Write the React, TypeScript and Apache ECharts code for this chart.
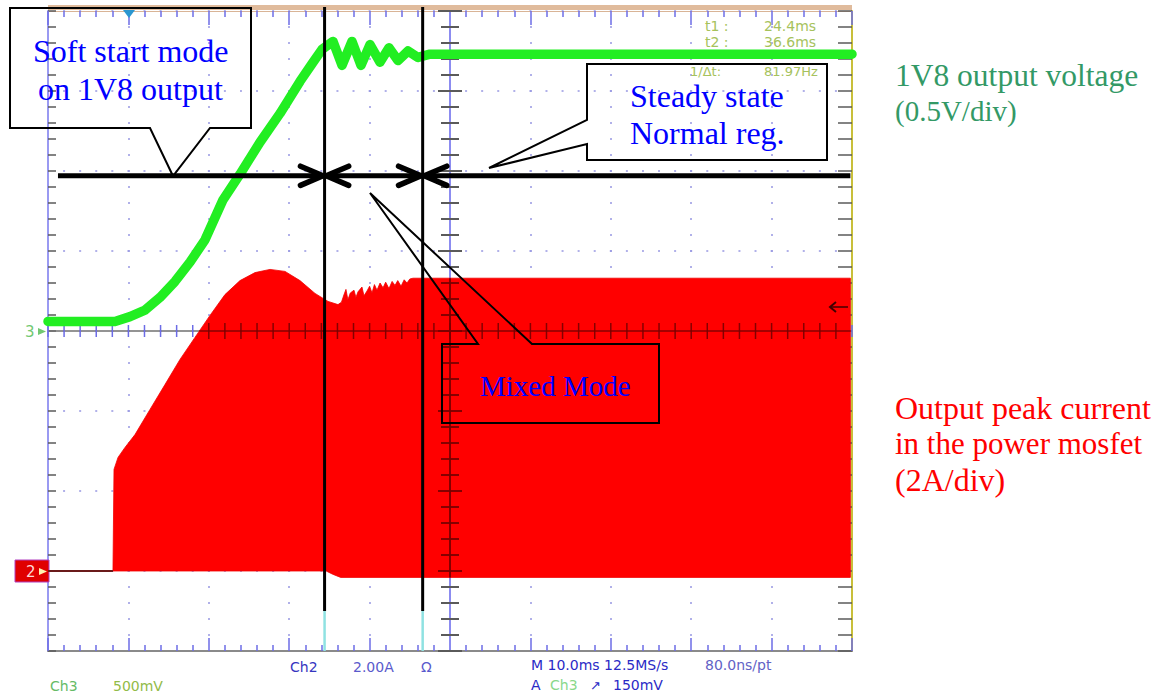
import React, { useEffect, useRef } from "react";
import * as echarts from "echarts";

// ---- axes (oscilloscope screen) ----
const TIME_MIN = -10; // ms
const TIME_MAX = 90; // ms
const TIME_STEP = 10; // ms/div
const DIV_MIN = -4;
const DIV_MAX = 4;
const VOLT_PER_DIV = 0.5; // Ch3
const VOLT_ZERO_DIV = 0;
const AMP_PER_DIV = 2; // Ch2
const AMP_ZERO_DIV = -3;

// ---- Ch3 : 1V8 output voltage (ms, V) ----
const greenT = [-10, -1.67, 0.2, 2.06, 3.93, 5.8, 7.66, 9.53, 11.77, 13.88, 16.37, 18.86, 21.34, 22.84, 24.08, 25.45, 26.57, 27.81, 28.93, 30.05, 31.29, 32.41, 33.53, 34.78, 36.02, 37.51, 90];
const greenV = [0.06, 0.06, 0.09, 0.13, 0.21, 0.31, 0.43, 0.57, 0.82, 0.98, 1.18, 1.36, 1.56, 1.67, 1.76, 1.81, 1.66, 1.81, 1.66, 1.79, 1.68, 1.77, 1.69, 1.75, 1.71, 1.73, 1.73];

// ---- Ch2 : peak current envelope (ms, A) ----
const redTopT = [-1.92, -1.79, -1.29, -0.42, 0.82, 2.69, 4.55, 6.42, 8.28, 10.15, 12.01, 13.88, 15.75, 17.61, 19.48, 21.34, 23.21, 24.83, 26.07, 26.5, 26.8, 27.06, 27.3, 27.6, 28.06, 28.3, 28.56, 29.05, 29.3, 29.68, 30.0, 30.3, 30.6, 30.92, 31.3, 31.67, 32.0, 32.41, 32.8, 33.16, 33.5, 33.91, 34.3, 34.65, 35.0, 35.4, 89.8];
const redTopA = [0, 2.54, 2.84, 3.09, 3.41, 4.04, 4.66, 5.29, 5.84, 6.39, 6.91, 7.26, 7.46, 7.54, 7.49, 7.26, 6.94, 6.74, 6.66, 6.72, 6.9, 7.04, 6.78, 6.95, 7.02, 6.84, 6.98, 7.1, 6.88, 7.0, 7.12, 6.95, 7.16, 7.02, 7.2, 7.08, 7.22, 7.06, 7.24, 7.14, 7.26, 7.12, 7.28, 7.2, 7.3, 7.32, 7.32];
const redBotT = [-1.92, 24.6, 25.4, 26.4, 89.8];
const redBotA = [0, 0, -0.08, -0.16, -0.16];
const baseT = [-10, -1.92];
const baseA = [0, 0];

// ---- cursors & annotation arrow ----
const cursorTimes = [24.4, 36.6];
const cursorTopDiv = 4.05;
const cursorBlackEndDiv = -3.5;
const arrowLevelDiv = 1.94;
const arrowFrom = -8.76;
const arrowTo = 89.8;
const headLen = 3.0; // ms
const headHalf = 0.12; // div

// ---- texts ----
const readoutLabels = ["t1 :", "t2 :", "1/\u0394t:"];
const readoutValues = ["24.4ms", "36.6ms", "81.97Hz"];
const readoutRows = [26, 42, 71];

const SERIF = '"Liberation Serif", "Times New Roman", serif';
const MONO = '"DejaVu Sans", sans-serif';

function interp(xs: number[], ys: number[], x: number) {
  for (let i = 1; i < xs.length; i++) {
    if (x <= xs[i]) {
      const f = (x - xs[i - 1]) / (xs[i] - xs[i - 1] || 1);
      return ys[i - 1] + f * (ys[i] - ys[i - 1]);
    }
  }
  return ys[ys.length - 1];
}
function crossing(xs: number[], ys: number[], level: number) {
  for (let i = 1; i < xs.length; i++) {
    if (ys[i - 1] < level && ys[i] >= level) {
      const f = (level - ys[i - 1]) / (ys[i] - ys[i - 1]);
      return xs[i - 1] + f * (xs[i] - xs[i - 1]);
    }
  }
  return xs[xs.length - 1];
}

function crossRender(dark: boolean) {
  return (_params: any, api: any) => {
    const P = (t: number, d: number) => api.coord([t, d]);
    const children: any[] = [];
    const midT = (TIME_MIN + TIME_MAX) / 2;
    let hFrom = TIME_MIN, hTo = TIME_MAX, vFrom = DIV_MIN, vTo = DIV_MAX;
    if (dark) {
      const centerAmp = (0 - AMP_ZERO_DIV) * AMP_PER_DIV;
      hFrom = crossing(redTopT, redTopA, centerAmp);
      hTo = redTopT[redTopT.length - 1];
      vTo = interp(redTopT, redTopA, midT) / AMP_PER_DIV + AMP_ZERO_DIV;
      vFrom = interp(redBotT, redBotA, midT) / AMP_PER_DIV + AMP_ZERO_DIV;
    }
    const hLine = dark ? "rgba(120,0,0,0.9)" : "#707070";
    const hTick = dark ? "rgba(120,0,0,0.9)" : "#6c6ce6";
    const vLine = dark ? "rgba(120,0,0,0.9)" : "#8c8cf0";
    const vTick = dark ? "rgba(120,0,0,0.9)" : "#5a5a5a";
    const a = P(hFrom, 0), b = P(hTo, 0);
    children.push({ type: "line", shape: { x1: a[0], y1: a[1], x2: b[0], y2: b[1] }, style: { stroke: hLine, lineWidth: 1.5 } });
    const sub = TIME_STEP / 5;
    for (let k = 0; k <= (TIME_MAX - TIME_MIN) / sub; k++) {
      const t = TIME_MIN + k * sub;
      if (t < hFrom || t > hTo) continue;
      const p = P(t, 0);
      const h = dark ? 8 : 6;
      children.push({ type: "line", shape: { x1: p[0], y1: p[1] - h, x2: p[0], y2: p[1] + h }, style: { stroke: hTick, lineWidth: 1.5 } });
    }
    const c = P(midT, vFrom), d = P(midT, vTo);
    children.push({ type: "line", shape: { x1: c[0], y1: c[1], x2: d[0], y2: d[1] }, style: { stroke: vLine, lineWidth: 2 } });
    for (let k = 0; k <= (DIV_MAX - DIV_MIN) * 5; k++) {
      const v = DIV_MIN + k * 0.2;
      if (v < vFrom || v > vTo) continue;
      const p = P(midT, v);
      const major = k % 5 === 0;
      const w = major ? 12 : 9;
      children.push({ type: "line", shape: { x1: p[0] - w, y1: p[1], x2: p[0] + w, y2: p[1] }, style: { stroke: vTick, lineWidth: 2 } });
    }
    return { type: "group", children };
  };
}

function buildOption(): any {
  const tickBlue = { color: "#6c6ce6", width: 1.5 };
  const tickGray = { color: "#5a5a5a", width: 1.5 };
  const dots = (gap: number) => ({ show: true, lineStyle: { color: "#9898e2", width: 1.5, type: [2, gap], dashOffset: 1 } });

  const ann = (points: number[][], fill = "none") => ({
    type: "polygon", z: 100, shape: { points }, style: { fill, stroke: "#000", lineWidth: 2 },
  });
  const txt = (x: number, y: number, text: string, fill: string, fontSize: number, fontFamily = SERIF, z = 100) => ({
    type: "text", x, y, z,
    style: { text, fill, fontSize, fontFamily, align: "left", verticalAlign: "middle", textAlign: "left", textVerticalAlign: "middle" },
  });

  const readoutTexts: any[] = [];
  readoutLabels.forEach((lab, i) => {
    const y = readoutRows[i];
    const lx = i === 2 ? 690 : 705;
    const fs = i === 2 ? 13 : 14;
    readoutTexts.push(txt(lx, y, lab, "#a6c25c", fs, MONO, 1));
    readoutTexts.push(txt(764, y, readoutValues[i], "#a6c25c", fs, MONO, 1));
  });

  return {
    animation: false,
    backgroundColor: "#ffffff",
    grid: { left: 48, top: 11, width: 804, height: 640, containLabel: false },
    xAxis: [
      {
        type: "value", min: TIME_MIN, max: TIME_MAX, interval: TIME_STEP, position: "bottom",
        axisLine: { show: true, onZero: false, lineStyle: { color: "#8a8a8a", width: 2 } },
        axisTick: { show: true, inside: true, length: 13, lineStyle: tickBlue },
        minorTick: { show: true, splitNumber: 5, length: 6, lineStyle: tickBlue },
        axisLabel: { show: false },
        splitLine: dots(14),
      },
      {
        type: "value", min: TIME_MIN, max: TIME_MAX, interval: TIME_STEP, position: "top",
        axisLine: { show: true, onZero: false, lineStyle: { color: "#d9b496", width: 1 } },
        axisTick: { show: true, inside: true, length: 14, lineStyle: tickBlue },
        minorTick: { show: true, splitNumber: 5, length: 6, lineStyle: tickBlue },
        axisLabel: { show: false },
        splitLine: { show: false },
      },
    ],
    yAxis: [
      {
        type: "value", min: DIV_MIN, max: DIV_MAX, interval: 1, position: "left",
        axisLine: { show: true, onZero: false, lineStyle: { color: "#9a9af2", width: 2 } },
        axisTick: { show: true, inside: true, length: 8, lineStyle: tickGray },
        minorTick: { show: true, splitNumber: 5, length: 8, lineStyle: tickGray },
        axisLabel: { show: false },
        splitLine: dots(14.08),
      },
      {
        type: "value", show: false,
        min: (DIV_MIN - VOLT_ZERO_DIV) * VOLT_PER_DIV, max: (DIV_MAX - VOLT_ZERO_DIV) * VOLT_PER_DIV,
      },
      {
        type: "value", show: false,
        min: (DIV_MIN - AMP_ZERO_DIV) * AMP_PER_DIV, max: (DIV_MAX - AMP_ZERO_DIV) * AMP_PER_DIV,
      },
      {
        type: "value", min: DIV_MIN, max: DIV_MAX, interval: 1, position: "right",
        axisLine: { show: true, onZero: false, lineStyle: { color: "#c8bf3a", width: 2 } },
        axisTick: { show: true, inside: true, length: 14, lineStyle: tickGray },
        minorTick: { show: true, splitNumber: 5, length: 14, lineStyle: tickGray },
        axisLabel: { show: false },
        splitLine: { show: false },
      },
    ],
    series: [
      {
        type: "custom", name: "grid-cross", xAxisIndex: 0, yAxisIndex: 0, z: 1, silent: true,
        data: [[0, 0]], renderItem: crossRender(false),
      },
      {
        type: "custom", name: "Ch2 current", xAxisIndex: 0, yAxisIndex: 2, z: 2, silent: true,
        data: [[0, 0]],
        renderItem: (_p: any, api: any) => {
          const top = redTopT.map((t, i) => api.coord([t, redTopA[i]]));
          const bot = redBotT.map((t, i) => api.coord([t, redBotA[i]])).reverse();
          return { type: "polygon", shape: { points: top.concat(bot) }, style: { fill: "#ff0000", stroke: "#f00000", lineWidth: 0.8 } };
        },
      },
      {
        type: "custom", name: "grid-cross-dark", xAxisIndex: 0, yAxisIndex: 0, z: 3, silent: true,
        data: [[0, 0]], renderItem: crossRender(true),
      },
      {
        type: "line", name: "Ch2 base", xAxisIndex: 0, yAxisIndex: 2, z: 4, silent: true,
        data: baseT.map((t, i) => [t, baseA[i]]), showSymbol: false, symbol: "none",
        lineStyle: { color: "#6a1a1a", width: 2 },
      },
      {
        type: "line", name: "Ch3 1V8", xAxisIndex: 0, yAxisIndex: 1, z: 5, silent: true,
        data: greenT.map((t, i) => [t, greenV[i]]), showSymbol: false, symbol: "none",
        lineStyle: { color: "#22ee22", width: 9.5, join: "round", cap: "round" },
      },
      {
        type: "custom", name: "cursors", xAxisIndex: 0, yAxisIndex: 0, z: 6, silent: true,
        data: cursorTimes.map((t) => [t, 0]),
        renderItem: (_p: any, api: any) => {
          const t = api.value(0);
          const a = api.coord([t, cursorTopDiv]);
          const b = api.coord([t, cursorBlackEndDiv]);
          const c = api.coord([t, DIV_MIN]);
          return {
            type: "group",
            children: [
              { type: "line", shape: { x1: b[0], y1: b[1], x2: c[0], y2: c[1] }, style: { stroke: "#8fe2e2", lineWidth: 2.5 } },
              { type: "line", shape: { x1: a[0], y1: a[1], x2: b[0], y2: b[1] }, style: { stroke: "#000", lineWidth: 3 } },
            ],
          };
        },
      },
      {
        type: "custom", name: "arrows", xAxisIndex: 0, yAxisIndex: 0, z: 7, silent: true,
        data: [[arrowFrom, arrowLevelDiv]],
        renderItem: (_p: any, api: any) => {
          const y = arrowLevelDiv;
          const a = api.coord([arrowFrom, y]);
          const b = api.coord([arrowTo, y]);
          const children: any[] = [
            { type: "line", shape: { x1: a[0], y1: a[1], x2: b[0], y2: b[1] }, style: { stroke: "#000", lineWidth: 5 } },
          ];
          cursorTimes.forEach((t) => {
            [-1, 1].forEach((dir) => {
              const p1 = api.coord([t + dir * headLen, y + headHalf]);
              const tip = api.coord([t + dir * 0.2, y]);
              const p2 = api.coord([t + dir * headLen, y - headHalf]);
              children.push({
                type: "polyline", shape: { points: [p1, tip, p2] },
                style: { stroke: "#000", lineWidth: 5.5, fill: null, lineCap: "round", lineJoin: "miter" },
              });
            });
          });
          return { type: "group", children };
        },
      },
    ],
    graphic: [
      // top border band & trigger marker
      { type: "rect", z: 1, shape: { x: 48, y: 5, width: 804, height: 5 }, style: { fill: "#e0bb9c" } },
      { type: "polygon", z: 1, shape: { points: [[123, 10], [135, 10], [129, 18]] }, style: { fill: "#2a96d0" } },
      // channel markers
      txt(25, 332, "3", "#72c872", 15, MONO, 2),
      { type: "polygon", z: 2, shape: { points: [[38, 328], [38, 335], [46, 331.5]] }, style: { fill: "#72c872" } },
      { type: "rect", z: 2, shape: { x: 15, y: 560, width: 34, height: 22 }, style: { fill: "#e00000", stroke: "#b040c0", lineWidth: 1 } },
      txt(26, 572, "2", "#ffd8d8", 15, MONO, 3),
      { type: "polygon", z: 3, shape: { points: [[39, 568], [39, 575], [47, 571.5]] }, style: { fill: "#fff0b0" } },
      { type: "polyline", z: 8, shape: { points: [[836, 302], [830, 307], [836, 312]] }, style: { stroke: "#400000", lineWidth: 2, fill: null } },
      { type: "line", z: 8, shape: { x1: 830, y1: 307, x2: 848, y2: 307 }, style: { stroke: "#400000", lineWidth: 1.5 } },
      // readouts
      ...readoutTexts,
      txt(290, 667, "Ch2", "#3535c0", 14, MONO, 1),
      txt(353, 667, "2.00A", "#5a5acc", 14, MONO, 1),
      txt(421, 667, "\u03a9", "#5a5acc", 14, MONO, 1),
      txt(50, 686, "Ch3", "#66bb66", 14, MONO, 1),
      txt(113, 686, "500mV", "#92bb48", 14, MONO, 1),
      txt(531, 665, "M 10.0ms 12.5MS/s", "#2a2ac6", 14, MONO, 1),
      txt(705, 665, "80.0ns/pt", "#6262c6", 14, MONO, 1),
      txt(531, 685, "A", "#2a2ac6", 14, MONO, 1),
      txt(550, 685, "Ch3", "#8ad88a", 14, MONO, 1),
      txt(590, 685, "\u2197", "#2a2ac6", 13, MONO, 1),
      txt(613, 685, "150mV", "#2a2ac6", 14, MONO, 1),
      // callout boxes
      ann([[10, 8], [251, 8], [251, 128], [210, 128], [173, 176], [150, 128], [10, 128]]),
      ann([[587, 64], [827, 64], [827, 160], [587, 160], [587, 144], [489, 168], [587, 120]]),
      ann([[442, 344], [478, 344], [370, 193], [532, 344], [659, 344], [659, 423], [442, 423]]),
      txt(33, 51, "Soft start mode", "#0000ff", 32),
      txt(38, 89, "on 1V8 output", "#0000ff", 32),
      txt(630, 96, "Steady state", "#0000ff", 32),
      txt(630, 133, "Normal reg.", "#0000ff", 32),
      txt(480, 386, "Mixed Mode", "#0000ff", 29),
      // right side legend text
      txt(895, 75, "1V8 output voltage", "#339966", 31.5),
      txt(895, 111, "(0.5V/div)", "#339966", 29),
      txt(895, 408, "Output peak current", "#ff0000", 32),
      txt(895, 443, "in the power mosfet", "#ff0000", 31),
      txt(895, 480, "(2A/div)", "#ff0000", 32),
    ],
  };
}

export default function App() {
  const ref = useRef<HTMLDivElement>(null);
  useEffect(() => {
    const chart = echarts.init(ref.current!, null, { renderer: "svg" });
    chart.setOption(buildOption());
    return () => chart.dispose();
  }, []);
  return (
    <div
      ref={ref}
      style={{ position: "fixed", left: 0, top: 0, width: 1158, height: 697, background: "#fff" }}
    />
  );
}
